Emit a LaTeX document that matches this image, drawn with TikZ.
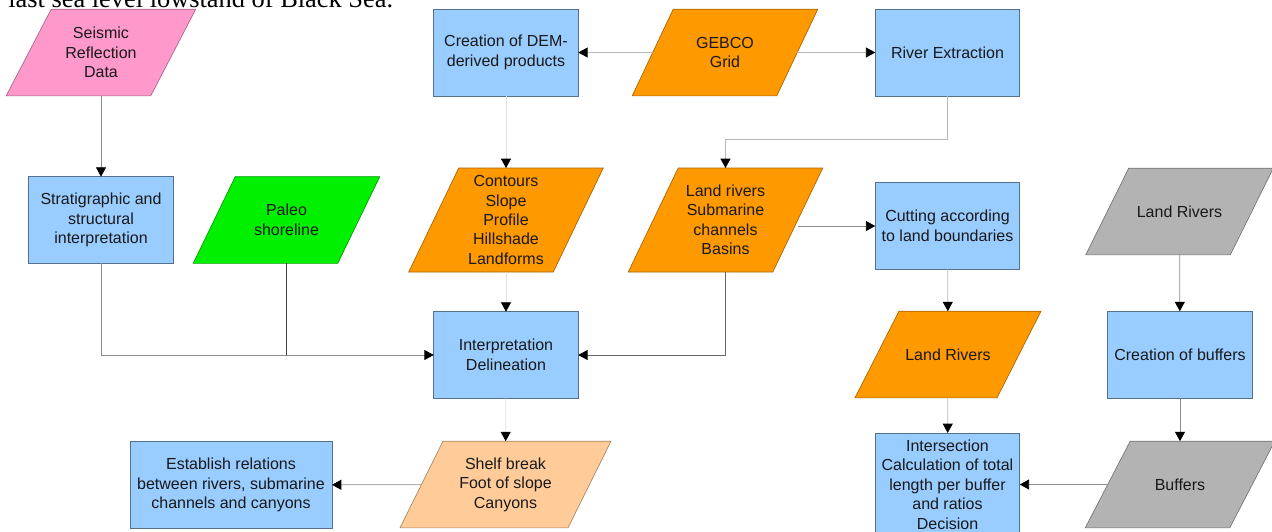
\documentclass[tikz,border=0pt]{standalone}
\usepackage{fontspec}
\setmainfont{Liberation Sans}
\newfontfamily\captionserif{Liberation Serif}
\usetikzlibrary{arrows.meta, calc, backgrounds}

\definecolor{boxblue}{HTML}{99CCFF}
\definecolor{dataorange}{HTML}{FF9900}
\definecolor{datapink}{HTML}{FF99CC}
\definecolor{datagreen}{HTML}{00F000}
\definecolor{datagray}{HTML}{B3B3B3}
\definecolor{datapeach}{HTML}{FFCC99}

\tikzset{
  txt/.style={align=center, text=black!90, font=\fontsize{12}{14.6}\selectfont,
    inner sep=2pt, outer sep=0pt, minimum width=108.4pt, minimum height=65pt},
  process/.style={txt, shape=rectangle, fill=boxblue, draw=boxblue!55!black, line width=0.5pt},
  io/.style={txt, shape=rectangle},
  arrtip/.style={line width=0.6pt, -{Triangle[length=7pt,width=7.5pt,color=black]}},
  arrfaint/.style={arrtip, draw=black!12},
  arrlight/.style={arrtip, draw=black!28},
  arrmid/.style={arrtip, draw=black!45},
  arrdark/.style={arrtip, draw=black!60},
  junction/.style={line width=0.6pt, draw=black!75},
}

\begin{document}
\begin{tikzpicture}[x=0.75pt, y=-0.75pt]
	\clip (0,0) rectangle (1272,532);
	\node[anchor=base west, inner sep=0, font=\captionserif\fontsize{19.8}{24}\selectfont] (caption) at (8,7.5) {last sea level lowstand of Black Sea.};
	
	% top row
	\node[io] (seismic) at (101,52.5) {Seismic\\Reflection\\Data};
	\node[process] (dem) at (506,52.5) {Creation of DEM-\\derived products};
	\node[io] (gebco) at (725,52.5) {GEBCO\\Grid};
	\node[process] (riverext) at (947.5,52.5) {River Extraction};
	
	% second row
	\node[process] (strat) at (101,220) {Stratigraphic and\\structural\\interpretation};
	\node[io] (paleo) at (286.5,220) {Paleo\\shoreline};
	\node[io, minimum height=78pt] (contours) at (506,220) {Contours\\Slope\\Profile\\Hillshade\\Landforms};
	\node[io, minimum height=78pt] (lrivers) at (725.5,220) {Land rivers\\Submarine\\channels\\Basins};
	\node[process] (cutting) at (947.5,226) {Cutting according\\to land boundaries};
	\node[io] (grayrivers) at (1179.5,211.5) {Land Rivers};
	
	% third row
	\node[process] (interp) at (506,355) {Interpretation\\Delineation};
	\node[io, minimum width=106.5pt] (landrivers) at (948,354.5) {Land Rivers};
	\node[process] (bufcreate) at (1180,354.5) {Creation of buffers};
	
	% bottom row
	\node[process, minimum width=151.5pt] (establish) at (231,485) {Establish relations\\between rivers, submarine\\channels and canyons};
	\node[io, minimum width=126pt] (shelf) at (505.5,484.5) {Shelf break\\Foot of slope\\Canyons};
	\node[process, minimum height=77.3pt] (intersect) at (947.5,484.5) {Intersection\\Calculation of total\\length per buffer\\and ratios\\Decision};
	\node[io] (buffers) at (1180,484.5) {Buffers};
	
	% data shapes drawn behind their nodes
	\begin{scope}[on background layer]
	\foreach \n/\s/\c in {seismic/22.5/datapink, gebco/20.5/dataorange, paleo/21/datagreen, contours/25/dataorange, lrivers/25/dataorange, grayrivers/21.5/datagray, landrivers/22/dataorange, shelf/21.5/datapeach, buffers/22.5/datagray}
		\draw[fill=\c, draw=\c!65!black, line width=0.5pt] ($(\n.south west)+(-\s,0)$) -- ($(\n.south east)+(-\s,0)$) -- ($(\n.north east)+(\s,0)$) -- ($(\n.north west)+(\s,0)$) -- cycle;
	\end{scope}
	
	\draw[arrlight] (gebco) -- (dem);
	\draw[arrlight] (gebco) -- (riverext);
	\draw[arrlight] (riverext.south) -- ++(0,44) -| (lrivers.north);
	\draw[arrfaint] (dem) -- (contours);
	\draw[arrmid] (seismic) -- (strat);
	\draw[arrmid] (strat.south) |- (interp.west);
	\draw[junction] (paleo.south) -- (paleo.south |- interp.west);
	\draw[arrfaint] (contours) -- (interp);
	\draw[arrdark] (lrivers.south) |- (interp.east);
	\draw[arrmid] (lrivers.east |- cutting.west) -- (cutting.west);
	\draw[arrlight] (cutting) -- (landrivers);
	\draw[arrlight] (landrivers) -- (intersect);
	\draw[arrfaint] (interp) -- (shelf);
	\draw[arrmid] (shelf) -- (establish);
	\draw[arrmid] (grayrivers) -- (bufcreate);
	\draw[arrmid] (bufcreate) -- (buffers);
	\draw[arrmid] (buffers) -- (intersect);
\end{tikzpicture}
\end{document}
